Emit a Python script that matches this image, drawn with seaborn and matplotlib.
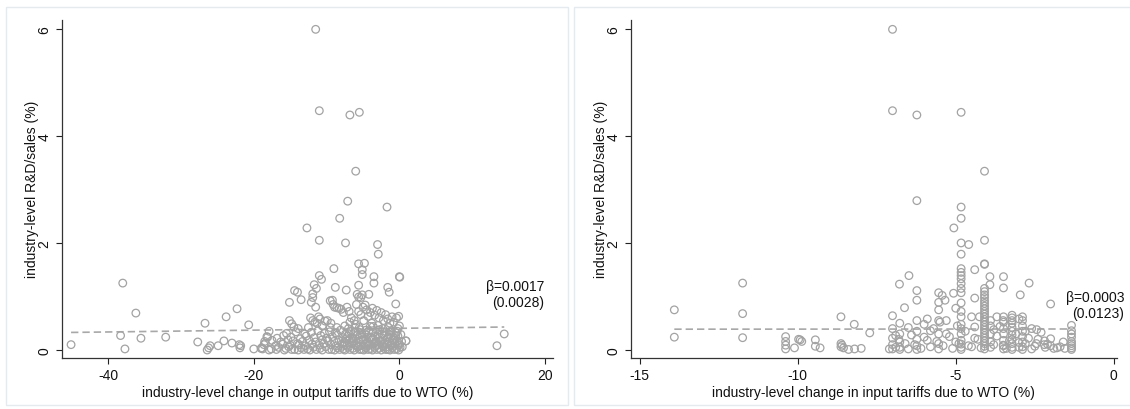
import matplotlib
matplotlib.use("Agg")
import matplotlib.pyplot as plt
import seaborn as sns
import numpy as np
from matplotlib.patches import Rectangle

# ---------------- data: output-tariff panel ----------------
out_dx = [
    # upper points
    -11.5, -11.0, -6.8, -5.5, -6.0, -7.1, -1.7, -8.2, -12.7, -11.0, -7.4, -3.0, -2.9,
    -5.6, -4.8, -5.1, -9.0, -5.1, -3.5, 0.0, 0.05, -11.0, -10.7, -11.7, -3.5, -5.6,
    -8.8, -7.3, -1.6, -1.4, -11.4, -14.4, -14.0, -11.9, -11.9, -5.8, -5.6, -5.1, -4.2,
    -5.3, -15.1, -13.5, -11.5, -12.1, -9.5, -9.2, -9.1, -8.9, -8.6, -0.5, -38.0,
    # middle band
    -15.1, -14.8, -14.5, -13.9, -12.2, -11.9, -11.6, -11.3, -11.1, -10.9, -10.2, -9.9,
    -9.4, -8.3, -8.0, -7.7, -7.2, -6.9, -6.6, -6.2, -5.9, -5.6, -5.3, -5.0, -4.7, -4.5,
    -4.3, -4.0, -3.7, -3.4, -3.1, -2.8, -2.5, -2.2, -1.9, -1.6, -1.3, -1.0, -0.8, -0.4,
    -0.1, 0.0, -0.2, -6.0, -7.5, -8.6, -10.6, -12.5, -4.9, -3.8, -2.9, -1.5, -5.5, -6.8,
    -9.5,
    # lower rows
    -17.9, -15.5, -14.2, -13.0, -12.1, -11.2, -10.3, -9.6, -8.8, -8.1, -7.4, -6.7, -6.1,
    -5.4, -4.8, -4.2, -3.6, -3.0, -2.4, -1.8, -1.1, -0.5, 0.2,
    -18.2, -16.8, -15.9, -14.9, -13.6, -12.8, -11.7, -10.8, -10.0, -9.2, -8.5, -7.8, -7.1,
    -6.4, -5.8, -5.1, -4.5, -3.9, -3.3, -2.7, -2.1, -1.5, -0.8, -0.2,
    -18.5, -17.5, -16.3, -15.3, -14.6, -13.3, -12.4, -11.5, -10.6, -9.8, -9.0, -8.3, -7.6,
    -6.9, -6.3, -5.6, -5.0, -4.4, -3.8, -3.2, -2.6, -2.0, -1.4, -0.9, -0.3, 0.3, 0.9,
    -18.6, -17.0, -16.0, -15.0, -14.0, -13.8, -12.9, -12.0, -11.0, -10.4, -9.4, -8.7, -7.9,
    -7.2, -6.6, -6.0, -5.3, -4.7, -4.1, -3.5, -2.9, -2.3, -1.7, -1.1, -0.6, 0.0,
    -18.9, -17.6, -16.6, -15.6, -15.2, -14.4, -13.5, -12.6, -11.8, -10.9, -10.1, -9.3, -8.5,
    -7.7, -7.0, -6.4, -5.7, -5.2, -4.6, -4.0, -3.4, -2.8, -2.2, -1.6, -1.0, -0.4, 0.1,
    -17.9, -16.9, -15.8, -14.8, -13.9, -13.1, -12.3, -11.4, -10.6, -9.7, -8.9, -8.2, -7.5,
    -6.8, -6.2, -5.5, -4.9, -4.3, -3.7, -3.1, -2.5, -1.9, -1.3, -0.7, -0.1,
    -7.8, -7.3, -6.9, -6.5, -6.1, -5.7, -5.4, -5.0, -4.6, -4.3, -3.9, -3.6, -3.2, -2.9,
    -2.6, -2.3, -1.9, -1.6, -1.2, -0.9, -0.5, -0.2,
    -7.6, -7.0, -6.4, -5.9, -5.2, -4.5, -4.0, -3.3, -2.7, -2.1, -1.4, -0.7, -0.3, 0.4,
    # left tail and right outliers
    -45.1, -38.3, -37.7, -36.2, -35.5, -32.1, -27.7, -26.7, -26.4, -26.2, -26.0, -24.9,
    -24.1, -23.8, -23.0, -22.3, -22.0, -21.9, -21.8, -20.7, -20.0, -19.0, -18.8, -18.4,
    -18.1, 13.4, 14.4, 0.9,
]
out_rd = [
    5.99, 4.47, 4.39, 4.44, 3.34, 2.78, 2.67, 2.46, 2.28, 2.05, 2.00, 1.97, 1.79,
    1.61, 1.62, 1.50, 1.52, 1.41, 1.37, 1.37, 1.36, 1.39, 1.32, 1.22, 1.25, 1.21,
    1.17, 1.12, 1.17, 1.08, 1.15, 1.11, 1.08, 1.05, 0.98, 1.04, 0.99, 1.03, 1.04,
    0.98, 0.89, 0.94, 0.80, 0.89, 0.92, 0.93, 0.85, 0.80, 0.79, 0.86, 1.25,
    0.55, 0.49, 0.43, 0.40, 0.60, 0.55, 0.52, 0.50, 0.62, 0.58, 0.54, 0.55,
    0.50, 0.78, 0.76, 0.70, 0.80, 0.72, 0.60, 0.55, 0.85, 0.72, 0.66, 0.80, 0.84, 0.75,
    0.63, 0.70, 0.78, 0.65, 0.74, 0.60, 0.70, 0.55, 0.66, 0.58, 0.50, 0.62, 0.52, 0.60,
    0.63, 0.45, 0.40, 0.48, 0.45, 0.42, 0.45, 0.42, 0.55, 0.50, 0.46, 0.42, 0.42, 0.52,
    0.42,
    0.35, 0.31, 0.34, 0.30, 0.33, 0.36, 0.31, 0.34, 0.32, 0.37, 0.30, 0.35, 0.33,
    0.38, 0.31, 0.36, 0.33, 0.37, 0.30, 0.34, 0.36, 0.32, 0.29,
    0.25, 0.22, 0.27, 0.24, 0.21, 0.26, 0.23, 0.27, 0.22, 0.25, 0.28, 0.23, 0.26,
    0.21, 0.27, 0.24, 0.28, 0.22, 0.26, 0.23, 0.27, 0.25, 0.22, 0.26,
    0.16, 0.18, 0.15, 0.19, 0.17, 0.16, 0.18, 0.15, 0.19, 0.17, 0.16, 0.18, 0.15,
    0.19, 0.17, 0.16, 0.18, 0.15, 0.19, 0.17, 0.16, 0.18, 0.15, 0.19, 0.17, 0.16, 0.17,
    0.10, 0.08, 0.11, 0.09, 0.12, 0.10, 0.08, 0.11, 0.09, 0.12, 0.10, 0.08, 0.11,
    0.09, 0.12, 0.10, 0.08, 0.11, 0.09, 0.12, 0.10, 0.08, 0.11, 0.09, 0.12, 0.10,
    0.04, 0.02, 0.05, 0.03, 0.06, 0.01, 0.04, 0.02, 0.05, 0.03, 0.06, 0.01, 0.04,
    0.02, 0.05, 0.03, 0.06, 0.01, 0.04, 0.02, 0.05, 0.03, 0.06, 0.01, 0.04, 0.02, 0.05,
    0.00, 0.01, 0.00, 0.01, 0.00, 0.01, 0.00, 0.01, 0.00, 0.01, 0.00, 0.01, 0.00,
    0.01, 0.00, 0.01, 0.00, 0.01, 0.00, 0.01, 0.00, 0.01, 0.00, 0.01, 0.00,
    0.07, 0.21, 0.30, 0.14, 0.42, 0.06, 0.28, 0.19, 0.37, 0.12, 0.24, 0.44, 0.08, 0.29,
    0.16, 0.40, 0.05, 0.22, 0.33, 0.13, 0.27, 0.09,
    0.13, 0.40, 0.23, 0.08, 0.31, 0.20, 0.44, 0.15, 0.38, 0.11, 0.29, 0.18, 0.35, 0.06,
    0.10, 0.27, 0.02, 0.69, 0.22, 0.24, 0.15, 0.50, 0.00, 0.04, 0.08, 0.08,
    0.17, 0.62, 0.13, 0.77, 0.10, 0.04, 0.08, 0.47, 0.02, 0.03, 0.02, 0.13,
    0.24, 0.08, 0.30, 0.17,
]

# ---------------- data: input-tariff panel ----------------
in_dx = [
    # upper points
    -7.0, -7.0, -6.23, -4.83, -4.09, -6.23, -4.83, -4.83, -5.06, -4.09, -4.83, -4.59,
    -4.83, -4.09, -4.09, -4.40, -4.83, -4.83, -4.83, -4.83, -3.92, -3.49, -6.48, -6.78,
    -2.68, -11.74, -3.92, -3.49, -6.23, -2.96, -5.07, -5.54, -5.43, -4.83, -4.83, -4.83,
    -4.09, -4.09, -4.09, -4.09, -4.09, -6.23, -5.34, -5.54, -4.40, -2.0, -13.9, -11.74,
    -13.9, -11.74, -6.62, -7.0, -8.63, -8.21, -7.72,
    # sparse left part
    -10.38, -10.38, -10.38, -10.38, -10.1, -9.97, -9.92, -9.87, -9.44, -9.44, -9.29,
    -8.63, -8.63, -8.55, -8.6, -8.39, -8.2, -7.99, -7.1,
    # right edge
    -1.34, -1.34, -1.34, -1.34, -1.34, -1.34, -1.34, -1.34, -1.34, -1.55, -2.19, -2.0,
    -2.44, -2.17, -2.0, -2.45,
    # columns
    -4.83, -4.83, -4.83, -4.83, -4.83, -4.83, -4.83, -4.83, -4.83, -4.83,
    -4.09, -4.09, -4.09, -4.09, -4.09, -4.09, -4.09, -4.09, -4.09, -4.09, -4.09, -4.09,
    -4.09, -4.09, -4.09, -4.09, -4.09, -4.09,
    -3.9, -3.9, -3.9, -3.9, -3.9,
    -3.49, -3.49, -3.49, -3.49, -3.49, -3.49, -3.49,
    -3.22, -3.22, -3.22, -3.22, -3.22, -3.22, -3.22, -3.22, -3.22, -3.22, -3.22,
    -2.89, -2.89, -2.89, -2.89, -2.89, -2.89, -2.89, -2.89,
    -5.54, -5.54, -5.54, -5.54, -5.54,
    -6.23, -6.23, -6.23, -6.23, -6.23,
    -6.77, -6.77, -6.77, -6.77, -6.77,
    -7.0, -7.0, -7.0, -7.0,
    # scattered fill
    -6.9, -6.6, -6.4, -6.1, -5.9, -5.7, -5.4, -5.2, -5.0, -4.7, -4.5, -4.3, -3.8, -3.6,
    -3.4, -3.1, -3.0, -2.7, -2.5, -2.3, -2.1, -1.8, -1.6,
    -6.8, -6.5, -6.3, -6.0, -5.8, -5.6, -5.3, -5.1, -4.9, -4.6, -4.4, -4.2, -3.7, -3.5,
    -3.3, -3.0, -2.8, -2.6, -2.4, -2.2, -1.9, -1.7,
    -5.5, -5.3, -5.0, -4.95, -4.5, -4.25, -3.7, -3.5, -3.0, -2.6, -6.5, -6.0, -5.9, -6.9,
    -5.8, -4.4, -2.8, -3.8,
]
in_rd = [
    5.99, 4.47, 4.39, 4.44, 3.34, 2.79, 2.67, 2.46, 2.28, 2.05, 2.00, 1.97,
    1.79, 1.61, 1.60, 1.50, 1.52, 1.45, 1.39, 1.33, 1.37, 1.37, 1.39, 1.23,
    1.25, 1.25, 1.22, 1.16, 1.11, 1.03, 1.06, 1.07, 1.02, 1.24, 1.15, 1.07,
    1.15, 1.09, 1.03, 0.98, 0.92, 0.93, 0.93, 0.89, 0.97, 0.86, 0.75, 0.68,
    0.24, 0.23, 0.79, 0.64, 0.62, 0.48, 0.32,
    0.25, 0.16, 0.09, 0.02, 0.04, 0.20, 0.19, 0.16, 0.19, 0.07, 0.04,
    0.12, 0.06, 0.04, 0.09, 0.01, 0.02, 0.03, 0.02,
    0.46, 0.36, 0.30, 0.24, 0.16, 0.12, 0.08, 0.04, 0.01, 0.03, 0.17, 0.21,
    0.38, 0.05, 0.08, 0.12,
    0.88, 0.72, 0.62, 0.48, 0.40, 0.30, 0.18, 0.11, 0.05, 0.01,
    0.87, 0.82, 0.77, 0.72, 0.67, 0.62, 0.57, 0.52, 0.47, 0.42, 0.37, 0.32,
    0.27, 0.22, 0.17, 0.12, 0.07, 0.02,
    0.55, 0.45, 0.30, 0.15, 0.05,
    0.62, 0.52, 0.40, 0.30, 0.18, 0.08, 0.02,
    0.65, 0.60, 0.55, 0.50, 0.42, 0.35, 0.28, 0.20, 0.12, 0.05, 0.01,
    0.62, 0.55, 0.45, 0.35, 0.25, 0.15, 0.06, 0.01,
    0.75, 0.55, 0.30, 0.12, 0.02,
    0.55, 0.35, 0.20, 0.08, 0.01,
    0.50, 0.30, 0.15, 0.05, 0.01,
    0.40, 0.22, 0.10, 0.02,
    0.05, 0.12, 0.28, 0.03, 0.18, 0.40, 0.08, 0.25, 0.15, 0.35, 0.06, 0.20, 0.10, 0.44,
    0.03, 0.30, 0.14, 0.22, 0.07, 0.33, 0.11, 0.04, 0.15,
    0.20, 0.02, 0.10, 0.24, 0.06, 0.16, 0.30, 0.03, 0.12, 0.08, 0.22, 0.04, 0.26, 0.09,
    0.18, 0.05, 0.12, 0.02, 0.20, 0.10, 0.03, 0.06,
    0.52, 0.55, 0.78, 0.45, 0.62, 0.62, 0.62, 0.55, 0.58, 0.40, 0.42, 0.48, 0.58, 0.27,
    0.36, 0.43, 0.35, 0.38,
]

# fitted slopes (standard errors) and intercepts
beta_out, se_out, icpt_out = 0.0017, 0.0028, 0.405
beta_in, se_in, icpt_in = 0.0003, 0.0123, 0.393

x_labels = ["industry-level change in output tariffs due to WTO (%)",
            "industry-level change in input tariffs due to WTO (%)"]
y_label = "industry-level R&D/sales (%)"
out_xticks = [-40, -20, 0, 20]
in_xticks = [-15, -10, -5, 0]
y_ticks = [0, 2, 4, 6]

sns.set_theme(style="white")
plt.rcParams["font.family"] = ["Liberation Sans", "DejaVu Sans"]

W, H = 1130, 410
FS = 10
fig = plt.figure(figsize=(W / 100, H / 100), dpi=100)
fig.patch.set_facecolor("white")

# light frames around each graph
for (x0, x1) in [(6, 568), (574, 1136)]:
    fig.patches.append(Rectangle((x0 / W, 4 / H), (x1 - x0) / W, (404 - 6) / H,
                                 transform=fig.transFigure, fill=False,
                                 edgecolor="#e4eaee", linewidth=1.0))

ax1 = fig.add_axes([61.6 / W, 51.5 / H, 491.4 / W, 337.8 / H])
ax2 = fig.add_axes([631 / W, 51.5 / H, 485.7 / W, 337.8 / H])

marker_col = "#a3a3a3"
panels = [
    (ax1, out_dx, out_rd, beta_out, se_out, icpt_out, (-46.4, 21.1), out_xticks, x_labels[0]),
    (ax2, in_dx, in_rd, beta_in, se_in, icpt_in, (-15.27, 0.09), in_xticks, x_labels[1]),
]
for ax, xs, ys, b, se, a, xlim, xt, xl in panels:
    ax.set_facecolor("white")
    sns.scatterplot(x=xs, y=ys, ax=ax, s=30, marker="o", facecolor="none",
                    edgecolor=marker_col, linewidth=0.9, zorder=3)
    xmin, xmax = min(xs), max(xs)
    sns.lineplot(x=[xmin, xmax], y=[a + b * xmin, a + b * xmax], ax=ax,
                 color="#a8a8a8", linewidth=1.2, linestyle=(0, (4.4, 2.4)), zorder=2)
    ax.set_xlim(*xlim)
    ax.set_ylim(-0.14, 6.17)
    ax.set_xticks(xt)
    ax.set_xticklabels([str(v) for v in xt])
    ax.set_yticks(y_ticks)
    ax.set_yticklabels([str(v) for v in y_ticks], rotation=90, va="center")
    ax.set_xlabel(xl, fontsize=FS, color="#111111", labelpad=2)
    ax.set_ylabel(y_label, fontsize=FS, color="#111111", labelpad=-1)
    ax.tick_params(axis="both", which="major", direction="out", length=4.5, width=0.8,
                   color="#222222", labelsize=FS, labelcolor="#111111", pad=3,
                   left=True, bottom=True)
    for side in ["top", "right"]:
        ax.spines[side].set_visible(False)
    for side in ["left", "bottom"]:
        ax.spines[side].set_color("#333333")
        ax.spines[side].set_linewidth(0.9)
    ax.grid(False)

ax1.text(19.9, 1.195, f"\u03b2={beta_out:.4f}", ha="right", va="center", fontsize=FS,
         color="#111111", clip_on=False)
ax1.text(19.9, 0.90, f"({se_out:.4f})", ha="right", va="center", fontsize=FS,
         color="#111111", clip_on=False)
ax2.text(0.33, 0.995, f"\u03b2={beta_in:.4f}", ha="right", va="center", fontsize=FS,
         color="#111111", clip_on=False)
ax2.text(0.33, 0.70, f"({se_in:.4f})", ha="right", va="center", fontsize=FS,
         color="#111111", clip_on=False)

fig.savefig("out.png", dpi=100, facecolor="white")
